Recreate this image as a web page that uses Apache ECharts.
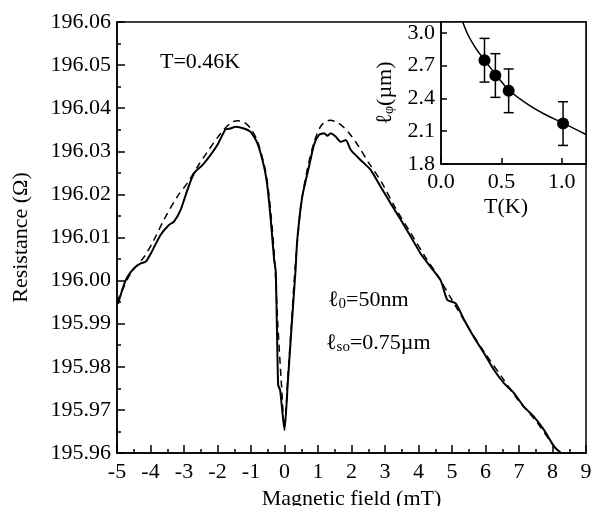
<!DOCTYPE html>
<html><head><meta charset="utf-8">
<script src="https://cdn.jsdelivr.net/npm/echarts@6/dist/echarts.min.js"></script>
<style>html,body{margin:0;padding:0;background:#fff}#c{width:592px;height:506px}</style>
</head><body><div id="c"></div>
<script>
// Main plot: measured resistance (solid) and fit (dashed)
const solidField = [-4.97,-4.74,-4.49,-4.29,-4.14,-3.99,-3.70,-3.45,-3.30,-3.10,-2.90,-2.70,-2.45,-2.25,-2.00,-1.76,-1.61,-1.46,-1.21,-1.01,-0.81,-0.61,-0.51,-0.41,-0.31,-0.26,-0.19,-0.13,0.00,0.10,0.20,0.33,0.38,0.53,0.73,0.88,1.03,1.18,1.28,1.38,1.53,1.68,1.83,1.98,2.27,2.57,2.87,3.17,3.47,3.77,4.06,4.36,4.66,4.86,5.11,5.36,5.66,5.96,6.25,6.55,6.85,7.15,7.45,7.75,8.05,8.24];
const solidResistance = [195.9946,196.0001,196.0029,196.0040,196.0044,196.0063,196.0106,196.0129,196.0137,196.0164,196.0210,196.0249,196.0268,196.0287,196.0315,196.0351,196.0353,196.0357,196.0353,196.0345,196.0319,196.0264,196.0218,196.0141,196.0048,196.0020,195.9758,195.9746,195.9653,195.9765,195.9880,196.0025,196.0094,196.0195,196.0264,196.0315,196.0338,196.0342,196.0336,196.0342,196.0334,196.0322,196.0326,196.0303,196.0280,196.0257,196.0218,196.0179,196.0141,196.0102,196.0063,196.0032,196.0001,195.9955,195.9947,195.9909,195.9868,195.9831,195.9793,195.9762,195.9739,195.9707,195.9684,195.9653,195.9615,195.9601];
const fitField = [-5.0,-4.89,-4.59,-4.19,-3.9,-3.6,-3.2,-2.9,-2.6,-2.3,-1.9,-1.6,-1.4,-1.2,-1.0,-0.8,-0.6,-0.5,-0.4,-0.3,-0.2,-0.1,0.0,0.1,0.2,0.3,0.4,0.5,0.7,0.9,1.1,1.35,1.6,1.9,2.2,2.5,2.9,3.3,3.77,4.2,4.6,5.0,5.5,6.0,6.5,7.0,7.5,8.0,8.3];
const fitResistance = [195.9950,195.9970,196.0017,196.0055,196.0094,196.0141,196.0195,196.0226,196.0264,196.0299,196.0342,196.0366,196.0371,196.0367,196.0352,196.0322,196.0266,196.0222,196.0150,196.0055,195.9900,195.9770,195.9660,195.9775,195.9890,196.0012,196.0105,196.0180,196.0265,196.0325,196.0360,196.0372,196.0366,196.0345,196.0313,196.0275,196.0228,196.0170,196.0110,196.0055,196.0008,195.9955,195.9890,195.9830,195.9775,195.9720,195.9675,195.9620,195.9592];

// Inset: phase coherence length vs temperature
const insetTemp = [0.36,0.45,0.56,1.01];
const insetL = [2.75,2.61,2.47,2.17];
const insetErr = [0.20,0.20,0.20,0.20];
const insetFitTemp = [0.18,0.22,0.27,0.32,0.36,0.46,0.56,0.70,0.85,1.02,1.20];
const insetFitL = [3.10,2.99,2.89,2.81,2.75,2.61,2.48,2.36,2.26,2.17,2.07];

const FONT = '"Liberation Serif", "DejaVu Serif", serif';
const FS = 22;
const zip = (a,b) => a.map((v,i)=>[v,b[i]]);

const chart = echarts.init(document.getElementById('c'), null, {renderer:'canvas'});
chart.setOption({
  animation:false,
  backgroundColor:'#fff',
  textStyle:{fontFamily:FONT,color:'#000'},
  grid:[
    {left:117,top:22,width:469,height:431,show:true,borderColor:'#000',borderWidth:1.5,outerBoundsMode:'none',containLabel:false},
    {left:441,top:22,width:145,height:142,show:true,backgroundColor:'#fff',borderColor:'#000',borderWidth:1.5,outerBoundsMode:'none',containLabel:false}
  ],
  xAxis:[
    {gridIndex:0,type:'value',min:-5,max:9,interval:1,
     name:'Magnetic field (mT)',nameLocation:'middle',nameGap:34,
     nameTextStyle:{fontFamily:FONT,fontSize:FS,color:'#000'},
     axisLine:{onZero:false,lineStyle:{color:'#000',width:1.5}},
     axisTick:{inside:true,length:8,lineStyle:{color:'#000',width:1.5}},
     minorTick:{show:true,splitNumber:2,length:4,lineStyle:{color:'#000',width:1.5}},
     splitLine:{show:false},
     axisLabel:{fontFamily:FONT,fontSize:FS,color:'#000',margin:8}},
    {gridIndex:1,type:'value',min:0,max:1.2,interval:0.5,
     axisLine:{onZero:false,lineStyle:{color:'#000',width:1.5}},
     axisTick:{inside:true,length:6,lineStyle:{color:'#000',width:1.5}},
     splitLine:{show:false},
     axisLabel:{fontFamily:FONT,fontSize:FS,color:'#000',margin:7,showMaxLabel:false,formatter:v=>v.toFixed(1)}}
  ],
  yAxis:[
    {gridIndex:0,type:'value',min:195.96,max:196.06,interval:0.01,
     name:'Resistance (Ω)',nameLocation:'middle',nameGap:85,nameRotate:90,
     nameTextStyle:{fontFamily:FONT,fontSize:FS,color:'#000'},
     axisLine:{onZero:false,lineStyle:{color:'#000',width:1.5}},
     axisTick:{inside:true,length:8,lineStyle:{color:'#000',width:1.5}},
     minorTick:{show:true,splitNumber:2,length:4,lineStyle:{color:'#000',width:1.5}},
     splitLine:{show:false},
     axisLabel:{fontFamily:FONT,fontSize:FS,color:'#000',margin:6,formatter:v=>v.toFixed(2)}},
    {gridIndex:1,type:'value',min:1.8,max:3.1,interval:0.3,
     name:'{l|ℓ}{s|φ}{l|(µm)}',nameLocation:'middle',nameGap:45,nameRotate:90,
     nameTextStyle:{fontFamily:FONT,fontSize:FS,color:'#000',
       rich:{l:{fontFamily:FONT,fontSize:FS,color:'#000'},s:{fontFamily:FONT,fontSize:14,color:'#000',padding:[8,0,0,0]}}},
     axisLine:{onZero:false,lineStyle:{color:'#000',width:1.5}},
     axisTick:{inside:true,length:6,lineStyle:{color:'#000',width:1.5}},
     splitLine:{show:false},
     axisLabel:{fontFamily:FONT,fontSize:FS,color:'#000',margin:6,showMaxLabel:false,formatter:v=>v.toFixed(1)}}
  ],
  series:[
    {type:'line',xAxisIndex:0,yAxisIndex:0,data:zip(fitField,fitResistance),showSymbol:false,smooth:0.3,
     lineStyle:{color:'#000',width:1.5,type:[7,5]},clip:true,z:2},
    {type:'line',xAxisIndex:0,yAxisIndex:0,data:zip(solidField,solidResistance),showSymbol:false,smooth:0.2,
     lineStyle:{color:'#000',width:2},clip:true,z:3},
    {type:'line',xAxisIndex:1,yAxisIndex:1,data:zip(insetFitTemp,insetFitL),showSymbol:false,smooth:0.4,
     lineStyle:{color:'#000',width:1.5},clip:true,z:5},
    {type:'custom',xAxisIndex:1,yAxisIndex:1,z:6,
     data:insetTemp.map((t,i)=>[t,insetL[i]-insetErr[i],insetL[i]+insetErr[i]]),
     renderItem:function(params,api){
       const x=api.value(0), lo=api.value(1), hi=api.value(2);
       const a=api.coord([x,hi]), b=api.coord([x,lo]); const c=5;
       const st={stroke:'#000',lineWidth:1.5};
       return {type:'group',children:[
         {type:'line',shape:{x1:a[0],y1:a[1],x2:b[0],y2:b[1]},style:st},
         {type:'line',shape:{x1:a[0]-c,y1:a[1],x2:a[0]+c,y2:a[1]},style:st},
         {type:'line',shape:{x1:b[0]-c,y1:b[1],x2:b[0]+c,y2:b[1]},style:st}
       ]};
     }},
    {type:'scatter',xAxisIndex:1,yAxisIndex:1,data:zip(insetTemp,insetL),symbol:'circle',symbolSize:12,
     itemStyle:{color:'#000',opacity:1},z:7}
  ],
  graphic:[
    {type:'text',left:160,top:51,style:{text:'T=0.46K',font:FS+'px '+FONT,fill:'#000'}},
    {type:'text',left:328,top:289,style:{text:'{l|ℓ}{s|0}{l|=50nm}',font:FS+'px '+FONT,fill:'#000',
      rich:{l:{fontFamily:FONT,fontSize:FS},s:{fontFamily:FONT,fontSize:15,padding:[8,0,0,0]}}}},
    {type:'text',left:326,top:332,style:{text:'{l|ℓ}{s|so}{l|=0.75µm}',font:FS+'px '+FONT,fill:'#000',
      rich:{l:{fontFamily:FONT,fontSize:FS},s:{fontFamily:FONT,fontSize:15,padding:[8,0,0,0]}}}},
    {type:'text',left:484,top:196,style:{text:'T(K)',font:FS+'px '+FONT,fill:'#000'}}
  ]
});
</script></body></html>
